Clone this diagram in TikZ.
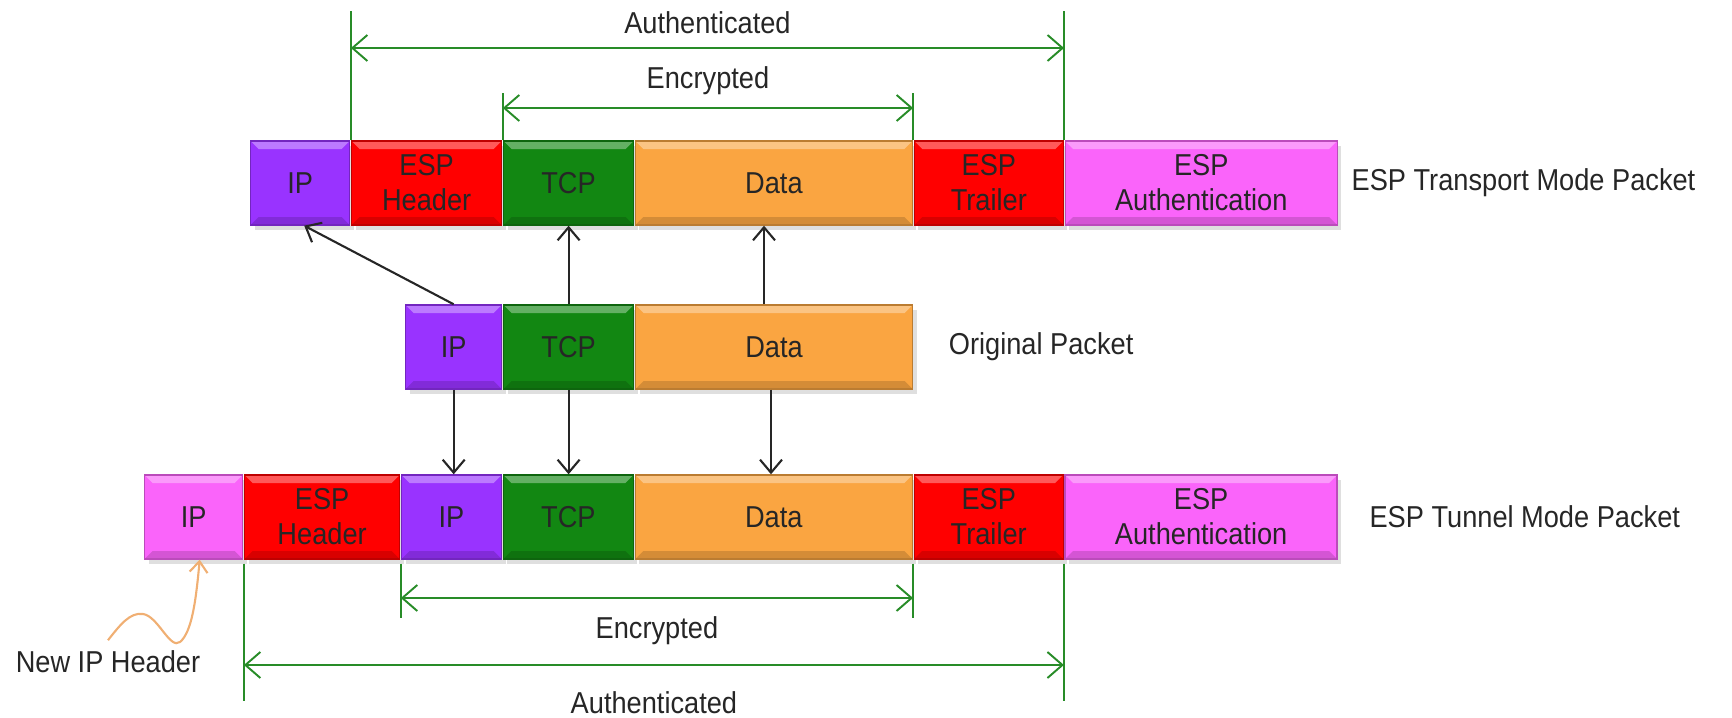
\documentclass[tikz,border=0pt]{standalone}
\usepackage{fontspec}
\setmainfont{Liberation Sans}[FakeStretch=0.9]
\usetikzlibrary{positioning,arrows.meta,shadows}

\definecolor{ipviolet}{RGB}{153,51,255}
\definecolor{espred}{RGB}{255,0,0}
\definecolor{tcpgreen}{RGB}{18,135,18}
\definecolor{dataorange}{RGB}{250,165,65}
\definecolor{authpink}{RGB}{250,100,250}
\definecolor{dimgreen}{RGB}{40,140,40}
\definecolor{noteorange}{RGB}{240,175,115}

\begin{document}
\begin{tikzpicture}[x=0.1mm, y=-0.1mm,
   font=\fontsize{8.6}{10}\selectfont,
   node distance=0.05mm,
   bevel/.style={path picture={
      \fill[white, opacity=.35] (path picture bounding box.north west) -- (path picture bounding box.north east)
         -- ([shift={(-0.8mm,-0.8mm)}]path picture bounding box.north east) -- ([shift={(0.8mm,-0.8mm)}]path picture bounding box.north west) -- cycle;
      \fill[black, opacity=.15] (path picture bounding box.south west) -- (path picture bounding box.south east)
         -- ([shift={(-0.8mm,0.8mm)}]path picture bounding box.south east) -- ([shift={(0.8mm,0.8mm)}]path picture bounding box.south west) -- cycle;}},
   pkt/.style={draw=#1!75!black, fill=#1, minimum height=8.4mm, inner sep=0pt,
      align=center, text=black!85, bevel,
      drop shadow={shadow xshift=0.4mm, shadow yshift=-0.5mm, opacity=.25}},
   dimline/.style={draw=dimgreen, line width=0.55pt},
   dimarrow/.style={dimline, {Straight Barb[length=1.5mm,width=2.6mm]}-{Straight Barb[length=1.5mm,width=2.6mm]}},
   flow/.style={draw=black!85, line width=0.6pt, -{Straight Barb[length=1.3mm,width=2.2mm]}},
   caption/.style={inner sep=0pt, text=black!85}]

\useasboundingbox (0,0) rectangle (1732,718);

% transport mode
\node[pkt=ipviolet, minimum width=9.9mm, anchor=west] (ipT) at (250,183) {IP};
\node[pkt=espred, minimum width=15mm, right=of ipT] (espHT) {ESP\\Header};
\node[pkt=tcpgreen, minimum width=13mm, right=of espHT] (tcpT) {TCP};
\node[pkt=dataorange, minimum width=27.7mm, right=of tcpT] (dataT) {Data};
\node[pkt=espred, minimum width=14.9mm, right=of dataT] (trlT) {ESP\\Trailer};
\node[pkt=authpink, minimum width=27.2mm, right=of trlT] (authT) {ESP\\Authentication};
\node[caption, right=1.3mm of authT] (transportlbl) {ESP Transport Mode Packet};

% original
\node[pkt=ipviolet, minimum width=9.6mm, anchor=west] (ipM) at (405,347) {IP};
\node[pkt=tcpgreen, minimum width=13mm, right=of ipM] (tcpM) {TCP};
\node[pkt=dataorange, minimum width=27.7mm, right=of tcpM] (dataM) {Data};
\node[caption, right=3.5mm of dataM] (originallbl) {Original Packet};

% tunnel mode
\node[pkt=authpink, minimum width=9.8mm, anchor=west] (ipN) at (144,517) {IP};
\node[pkt=espred, minimum width=15.5mm, right=of ipN] (espHB) {ESP\\Header};
\node[pkt=ipviolet, minimum width=10mm, right=of espHB] (ipB) {IP};
\node[pkt=tcpgreen, minimum width=13mm, right=of ipB] (tcpB) {TCP};
\node[pkt=dataorange, minimum width=27.7mm, right=of tcpB] (dataB) {Data};
\node[pkt=espred, minimum width=14.9mm, right=of dataB] (trlB) {ESP\\Trailer};
\node[pkt=authpink, minimum width=27.2mm, right=of trlB] (authB) {ESP\\Authentication};
\node[caption, right=3.1mm of authB] (tunnellbl) {ESP Tunnel Mode Packet};

\node[caption] (newip) at (108,662) {New IP Header};

% ranges above
\draw[dimline] (espHT.north west) -- ++(0,-129);
\draw[dimline] (trlT.north east) -- ++(0,-129);
\draw[dimline] (tcpT.north west) -- ++(0,-47);
\draw[dimline] (dataT.north east) -- ++(0,-47);
\coordinate (authT1) at (espHT.north west |- 0,48);
\coordinate (authT2) at (trlT.north east |- 0,48);
\coordinate (encT1) at (tcpT.north west |- 0,108);
\coordinate (encT2) at (dataT.north east |- 0,108);
\draw[dimarrow] (authT1) -- (authT2) node[caption, midway, above=1.3mm] (authTlbl) {Authenticated};
\draw[dimarrow] (encT1) -- (encT2) node[caption, midway, above=1.2mm] (encTlbl) {Encrypted};

% ranges below
\draw[dimline] ([yshift=-0.4mm]espHB.south west) -- ++(0,137);
\draw[dimline] ([yshift=-0.4mm]trlB.south east) -- ++(0,137);
\draw[dimline] ([yshift=-0.4mm]ipB.south west) -- ++(0,54);
\draw[dimline] ([yshift=-0.4mm]dataB.south east) -- ++(0,54);
\coordinate (encB1) at (ipB.south west |- 0,598);
\coordinate (encB2) at (dataB.south east |- 0,598);
\coordinate (authB1) at (espHB.south west |- 0,665);
\coordinate (authB2) at (trlB.south east |- 0,665);
\draw[dimarrow] (encB1) -- (encB2) node[caption, midway, below=1.75mm] (encBlbl) {Encrypted};
\draw[dimarrow] (authB1) -- (authB2) node[caption, midway, below=2.6mm] (authBlbl) {Authenticated};

% moves
\draw[flow] (ipM.north) -- ([xshift=0.4mm]ipT.south);
\draw[flow] (tcpM.north) -- (tcpM.north |- tcpT.south);
\draw[flow] ([xshift=-1mm]dataM.north) -- ([xshift=-1mm]dataM.north |- dataT.south);
\draw[flow] (ipM.south) -- (ipM.south |- ipB.north);
\draw[flow] (tcpM.south) -- (tcpM.south |- tcpB.north);
\draw[flow] ([xshift=-0.3mm]dataM.south) -- ([xshift=-0.3mm]dataM.south |- dataB.north);

\draw[draw=noteorange, line width=0.6pt, -{Straight Barb[length=1.1mm,width=1.8mm]}]
   ([yshift=1mm]newip.north) .. controls (120,625) and (130,612) .. (143,614)
   .. controls (158,616) and (170,650) .. (180,642)
   .. controls (192,632) and (196,600) .. ([xshift=0.6mm]ipN.south);

\end{tikzpicture}
\end{document}
